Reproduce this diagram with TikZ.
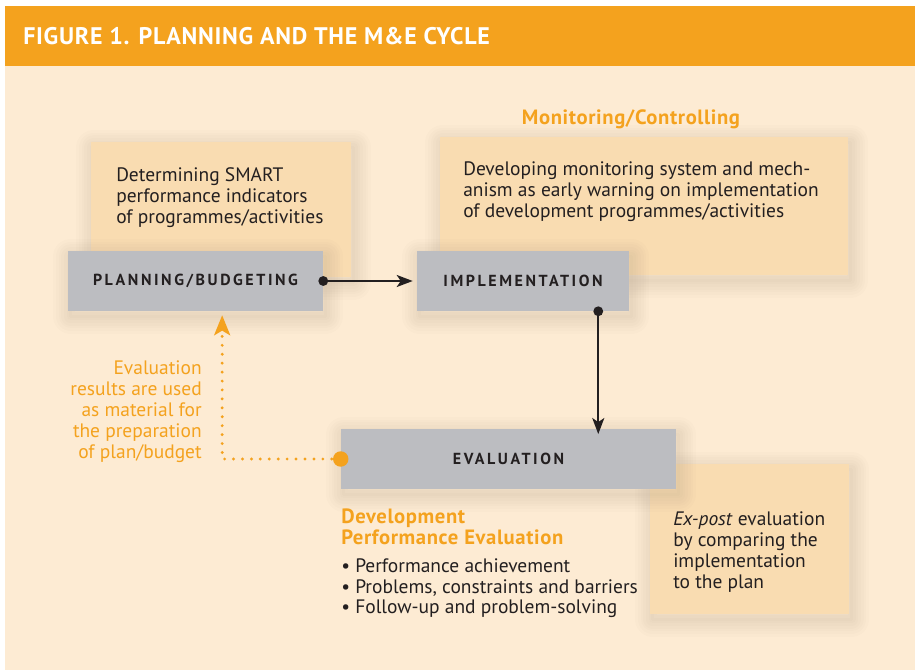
\documentclass[tikz,border=0pt]{standalone}
\usepackage{fontspec}
\setmainfont{PT Sans}
\usepackage{xcolor}
\definecolor{meOrange}{HTML}{F4A21E}
\definecolor{meBack}{HTML}{FDEBD3}
\definecolor{mePeach}{HTML}{F9DCB1}
\definecolor{meGray}{HTML}{BCBDC1}
\definecolor{meDark}{HTML}{231F20}
\usetikzlibrary{arrows.meta,positioning,calc}
\tikzset{
    shadowlayer/.style={
        preaction={draw=black!70!brown, opacity=0.012, line width=#1, line join=round,
            transform canvas={shift={(2pt,-4pt)}}}
    },
    softshadow/.style={
        shadowlayer=26pt, shadowlayer=22pt, shadowlayer=18pt, shadowlayer=14pt,
        shadowlayer=10pt, shadowlayer=6pt, shadowlayer=2pt
    },
    notebox/.style={
        fill=mePeach,
        rectangle,
        inner sep=0pt,
        softshadow
    },
    stagebox/.style={
        fill=meGray,
        rectangle,
        inner sep=0pt,
        minimum height=45pt,
        softshadow,
        font=\fontsize{12}{14}\selectfont\bfseries\addfontfeatures{LetterSpace=16},
        text=meDark
    },
    bodytext/.style={
        font=\fontsize{14.6}{15.75}\selectfont,
        text=meDark,
        align=left,
        inner sep=0pt
    },
    headtext/.style={
        font=\fontsize{15.5}{15.75}\selectfont\bfseries\addfontfeatures{LetterSpace=3},
        text=meOrange,
        align=left,
        inner sep=0pt
    },
    flow/.style={
        -{Stealth[length=12pt,width=9pt,inset=3pt]},
        line width=1.5pt,
        color=meDark
    },
    feedback/.style={
        -{Stealth[length=15pt,width=12pt,inset=3.5pt]},
        line width=2.4pt,
        line cap=round,
        dash pattern=on 0pt off 6.7pt,
        color=meOrange
    }
}
\begin{document}
\begin{tikzpicture}[x=0.75pt, y=-0.75pt]
    \useasboundingbox (0,0) rectangle (915,670);
    % Background and title bar
    \fill[meBack] (5,66) rectangle (915,670);
    \fill[meOrange] (5,6) rectangle (915,66);
    \node[anchor=base west, inner sep=0pt, text=white,
        font=\fontsize{18}{22}\selectfont\bfseries\addfontfeatures{LetterSpace=3}]
        (title) at (23,45) {FIGURE 1. PLANNING AND THE M\&E CYCLE};

    % Note boxes
    \node[notebox, minimum width=195pt, minimum height=101.25pt] (smart) at (221,209.5) {};
    \node[notebox, minimum width=306pt, minimum height=103.5pt] (monitor) at (644,206) {};
    \node[notebox, minimum width=149.25pt, minimum height=112.5pt] (expost) at (749.5,539) {};

    % (base anchor = last line)
    \node[bodytext, anchor=base west] (smarttxt) at (116,224)
        {Determining SMART\\performance indicators\\of programmes/activities};
    \node[bodytext, anchor=base west] (monitortxt) at (463,218)
        {Developing monitoring system and mech-\\anism as early warning on implementation\\of development programmes/activities};
    \node[bodytext, anchor=base west] (expostxt) at (673,588)
        {\textit{Ex-post} evaluation\\by comparing the\\implementation\\to the plan};

    % Stages
    \node[stagebox, minimum width=191.25pt] (plan) at (195.5,281) {PLANNING/BUDGETING};
    \node[stagebox, minimum width=159pt] (impl) at (523,281) {IMPLEMENTATION};
    \node[stagebox, minimum width=251.25pt] (eval) at (508.5,459) {EVALUATION};

    % Headings
    \node[headtext, anchor=base] (monhead) at (631,125) {Monitoring/Controlling};
    \node[headtext, anchor=base west] (devhead) at (341,544) {Development\\Performance Evaluation};
    \node[bodytext, anchor=base west] (devlist) at (341,614)
        {\textbullet\ Performance achievement\\\textbullet\ Problems, constraints and barriers\\\textbullet\ Follow-up and problem-solving};
    \node[bodytext, text=meOrange, align=right, anchor=base east] (usetxt) at (202,459)
        {Evaluation\\results are used\\as material for\\the preparation\\of plan/budget};

    % Connectors
    \coordinate (drop) at ($(impl.south east)+(-23.25pt,0)$);
    \coordinate (back) at ($(plan.south)+(20pt,0)$);
    \draw[flow] (plan.east) -- ([xshift=-3pt]impl.west);
    \draw[flow] (drop) -- ([yshift=-4pt]drop |- eval.north);
    \draw[feedback, shorten >=3pt] (eval.west) -| (back);
    \fill[meDark] (plan.east) circle (3.7pt);
    \fill[meDark] (drop) circle (3.7pt);
    \fill[meOrange] (eval.west) circle (5.8pt);
\end{tikzpicture}
\end{document}
